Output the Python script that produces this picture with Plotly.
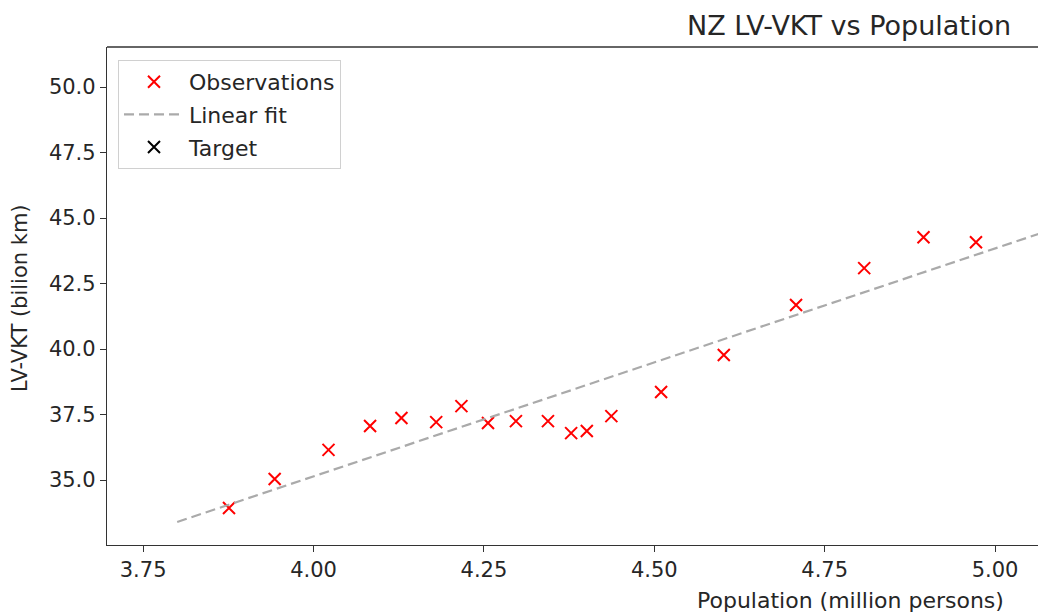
import plotly.graph_objects as go

# Observations (population in million persons, LV-VKT in billion km)
pop = [3.876, 3.943, 4.022, 4.083, 4.129, 4.180, 4.217, 4.256, 4.297, 4.344,
       4.378, 4.401, 4.437, 4.510, 4.602, 4.708, 4.808, 4.895, 4.972]
vkt = [33.93, 35.04, 36.15, 37.06, 37.37, 37.21, 37.82, 37.18, 37.25, 37.25,
       36.79, 36.87, 37.44, 38.36, 39.77, 41.68, 43.09, 44.27, 44.08]

# Linear fit endpoints
fit_x = [3.8, 5.1]
fit_y = [33.40, 44.71]

x_ticks = [3.75, 4.00, 4.25, 4.50, 4.75, 5.00]
y_ticks = [35.0, 37.5, 40.0, 42.5, 45.0, 47.5, 50.0]

FONT = "DejaVu Sans"
TXT = "#262626"
W, H = 1038, 614
L, T, B, R = 107, 47, 69, 0

fig = go.Figure()
fig.add_trace(go.Scatter(
    x=pop, y=vkt, mode="markers", name="Observations", legendgroup="a",
    marker=dict(symbol="x-thin", size=12, color="red",
                line=dict(color="red", width=2)),
))
fig.add_trace(go.Scatter(
    x=fit_x, y=fit_y, mode="lines", name="Linear fit", legendgroup="b",
    line=dict(color="#aaaaaa", width=2.2, dash="10px,5px"),
))
fig.add_trace(go.Scatter(
    x=[None], y=[None], mode="markers", name="Target", legendgroup="c",
    marker=dict(symbol="x-thin", size=12, color="black",
                line=dict(color="black", width=2)),
))

pw = W - L - R
ph = H - T - B

fig.update_layout(
    width=W, height=H,
    margin=dict(l=L, r=R, t=T, b=B, pad=0),
    paper_bgcolor="white", plot_bgcolor="white",
    font=dict(family=FONT, size=21, color=TXT),
    showlegend=True,
    legend=dict(
        x=(118 - L) / pw, y=1 - (60 - T) / ph, xanchor="left", yanchor="top",
        bgcolor="white", bordercolor="#d0d0d0", borderwidth=1,
        font=dict(family=FONT, size=22, color=TXT),
        tracegroupgap=1, itemwidth=60,
    ),
    xaxis=dict(
        range=[3.697, 5.063], tickvals=x_ticks,
        ticktext=[f"{v:.2f}" for v in x_ticks],
        showgrid=False, zeroline=False,
        showline=True, linecolor="#333333", linewidth=1.3, mirror=False,
        ticks="outside", ticklen=6, tickcolor="#333333", tickwidth=1.2,
        tickfont=dict(family=FONT, size=21, color=TXT),
    ),
    yaxis=dict(
        range=[32.52, 51.53], tickvals=y_ticks,
        ticktext=[f"{v:.1f}" for v in y_ticks],
        showgrid=False, zeroline=False,
        showline=True, linecolor="#333333", linewidth=1.3, mirror=False,
        ticks="outside", ticklen=6, tickcolor="#333333", tickwidth=1.2,
        tickfont=dict(family=FONT, size=21, color=TXT),
    ),
    shapes=[dict(type="line", xref="paper", yref="paper", x0=0, x1=1, y0=1, y1=1,
                 line=dict(color="#333333", width=1.3))],
    annotations=[
        dict(text="NZ LV-VKT vs Population", xref="paper", yref="paper",
             x=(1013 - L) / pw, y=1 + (T - 26) / ph, xanchor="right", yanchor="middle",
             showarrow=False, font=dict(family=FONT, size=27, color=TXT)),
        dict(text="Population (million persons)", xref="paper", yref="paper",
             x=(1006 - L) / pw, y=-(600 - (H - B)) / ph, xanchor="right", yanchor="middle",
             showarrow=False, font=dict(family=FONT, size=22, color=TXT)),
        dict(text="LV-VKT (bilion km)", xref="paper", yref="paper",
             x=-(L - 20) / pw, y=1 - (298 - T) / ph, xanchor="center", yanchor="middle",
             textangle=-90, showarrow=False,
             font=dict(family=FONT, size=21, color=TXT)),
    ],
)

fig.write_html(
    "out.html",
    config={"displayModeBar": False},
    post_script="document.body.style.margin='0';document.body.style.overflow='hidden';",
)
